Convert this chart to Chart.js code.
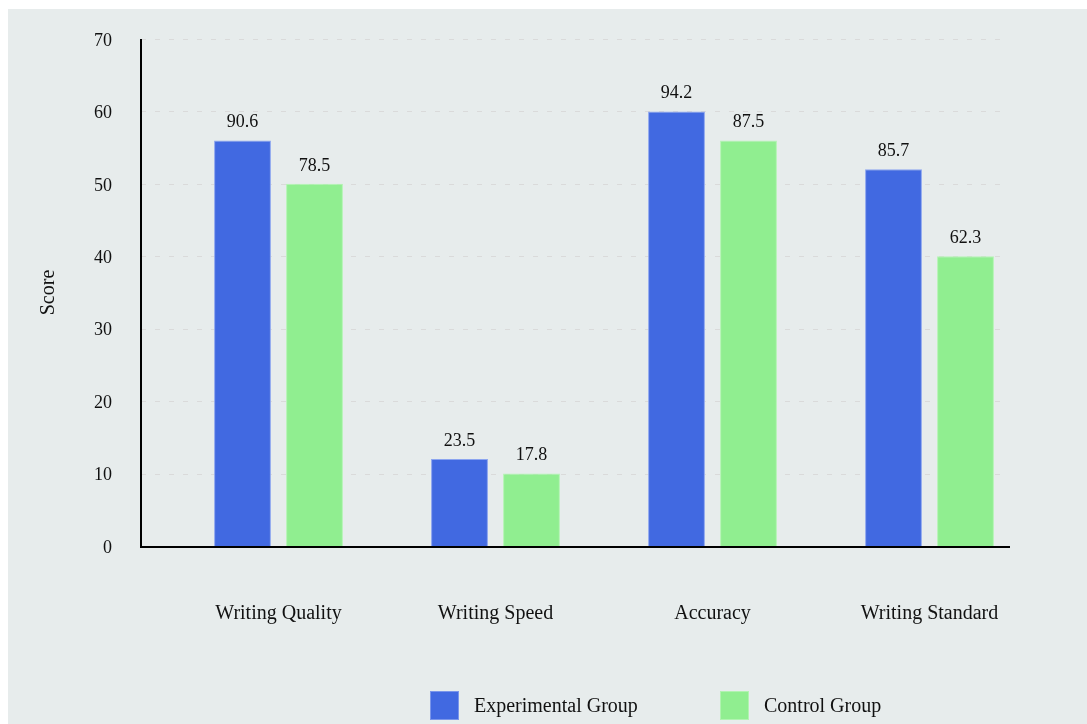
<!DOCTYPE html>
<html>
<head>
<meta charset="utf-8">
<script src="https://cdn.jsdelivr.net/npm/chart.js@4"></script>
<style>
   html, body {
      margin: 0;
      padding: 0;
      background: #ffffff;
      overflow: hidden;
   }

   .chart-panel {
      position: absolute;
      left: 8px;
      top: 9px;
      width: 1079px;
      height: 715px;
      background: #e7ecec;
   }

   .chart-legend {
      position: absolute;
      left: 422px;
      top: 682px;
      display: flex;
      align-items: center;
      font-family: "Liberation Serif", "Times New Roman", serif;
      font-size: 20px;
      color: #111;
   }

   .chart-legend__item {
      display: flex;
      align-items: center;
      width: 290px;
   }

   .chart-legend__box {
      width: 29px;
      height: 29px;
      margin-right: 15px;
      box-sizing: border-box;
      border: 1px solid rgba(255, 255, 255, 0.3);
   }
</style>
</head>
<body>
<div class="chart-panel">
   <canvas id="scoreChart" width="1079" height="715"></canvas>
   <div class="chart-legend" id="scoreLegend"></div>
</div>

<script>
const categories = ["Writing Quality", "Writing Speed", "Accuracy", "Writing Standard"];
const seriesNames = ["Experimental Group", "Control Group"];
const seriesColors = ["#4169e1", "#90ee90"];

// bar heights as drawn on the axis
const experimentalValues = [56, 12, 60, 52];
const controlValues = [50, 10, 56, 40];

// numbers printed above the bars
const experimentalLabels = ["90.6", "23.5", "94.2", "85.7"];
const controlLabels = ["78.5", "17.8", "87.5", "62.3"];

const yTicks = [0, 10, 20, 30, 40, 50, 60, 70];

const SERIF = "'Liberation Serif', 'Times New Roman', serif";
const FRAME_SHIFT = 29;

const frameLines = {
   id: "frameLines",
   beforeDatasetsDraw(chart) {
      const { ctx, chartArea, scales } = chart;
      const left = chartArea.left - FRAME_SHIFT;
      const right = chartArea.right - FRAME_SHIFT - 4;

      ctx.save();
      ctx.strokeStyle = "rgba(218, 218, 218, 1)";
      ctx.lineWidth = 1;
      ctx.setLineDash([5, 9]);
      yTicks.slice(1).forEach((tick) => {
         const y = Math.round(scales.y.getPixelForValue(tick)) + 0.5;
         ctx.beginPath();
         ctx.moveTo(left, y);
         ctx.lineTo(right, y);
         ctx.stroke();
      });
      ctx.restore();
   },
   afterDatasetsDraw(chart) {
      const { ctx, chartArea, scales } = chart;
      const left = chartArea.left - FRAME_SHIFT;
      const right = chartArea.right - FRAME_SHIFT + 1;
      const yZero = scales.y.getPixelForValue(0);
      const yTop = scales.y.getPixelForValue(yTicks[yTicks.length - 1]);

      ctx.save();
      ctx.strokeStyle = "#000";
      ctx.lineWidth = 2;
      ctx.beginPath();
      ctx.moveTo(left, yTop);
      ctx.lineTo(left, yZero + 1);
      ctx.moveTo(left - 1, yZero + 1);
      ctx.lineTo(right, yZero + 1);
      ctx.stroke();
      ctx.restore();
   }
};

const barValueLabels = {
   id: "barValueLabels",
   afterDatasetsDraw(chart) {
      const { ctx } = chart;
      const labelSets = [experimentalLabels, controlLabels];

      ctx.save();
      ctx.font = `18px ${SERIF}`;
      ctx.fillStyle = "#111";
      ctx.textAlign = "center";
      ctx.textBaseline = "middle";
      chart.data.datasets.forEach((dataset, datasetIndex) => {
         const meta = chart.getDatasetMeta(datasetIndex);
         meta.data.forEach((bar, index) => {
            ctx.fillText(labelSets[datasetIndex][index], bar.x, bar.y - 18);
         });
      });
      ctx.restore();
   }
};

function buildLegend() {
   const legend = document.getElementById("scoreLegend");
   if (!legend) return;

   legend.innerHTML = seriesNames.map((name, i) => `
      <div class="chart-legend__item">
         <span class="chart-legend__box" style="background:${seriesColors[i]}"></span>
         <span>${name}</span>
      </div>
   `).join("");
}

function renderChart() {
   const canvas = document.getElementById("scoreChart");
   if (!canvas || typeof Chart === "undefined") return;

   new Chart(canvas, {
      type: "bar",
      data: {
         labels: categories,
         datasets: [
            {
               label: seriesNames[0],
               data: experimentalValues,
               backgroundColor: seriesColors[0],
               borderColor: "rgba(140, 165, 240, 1)",
               borderWidth: 1,
               categoryPercentage: 0.6636,
               barPercentage: 0.79
            },
            {
               label: seriesNames[1],
               data: controlValues,
               backgroundColor: seriesColors[1],
               borderColor: "rgba(180, 245, 180, 1)",
               borderWidth: 1,
               categoryPercentage: 0.6636,
               barPercentage: 0.79
            }
         ]
      },
      options: {
         responsive: false,
         animation: false,
         layout: {
            autoPadding: false,
            padding: { top: 30, right: 49, bottom: 78, left: 0 }
         },
         plugins: {
            legend: { display: false },
            tooltip: { enabled: false }
         },
         scales: {
            x: {
               grid: { display: false, drawTicks: false },
               border: { display: false },
               ticks: {
                  padding: 56,
                  maxRotation: 0,
                  autoSkip: false,
                  color: "#111",
                  font: { family: SERIF, size: 20 }
               },
               afterFit(scale) {
                  scale.height = 100;
               }
            },
            y: {
               min: 0,
               max: 70,
               grid: { display: false, drawTicks: true, tickLength: 56 },
               border: { display: false },
               afterBuildTicks(scale) {
                  scale.ticks = yTicks.map((value) => ({ value }));
               },
               ticks: {
                  padding: 2,
                  labelOffset: 2,
                  color: "#111",
                  font: { family: SERIF, size: 18 }
               },
               title: {
                  display: true,
                  text: "Score",
                  color: "#111",
                  padding: 29,
                  font: { family: SERIF, size: 20 }
               },
               afterFit(scale) {
                  scale.width = 162;
               }
            }
         }
      },
      plugins: [frameLines, barValueLabels]
   });
}

buildLegend();
renderChart();
</script>
</body>
</html>
